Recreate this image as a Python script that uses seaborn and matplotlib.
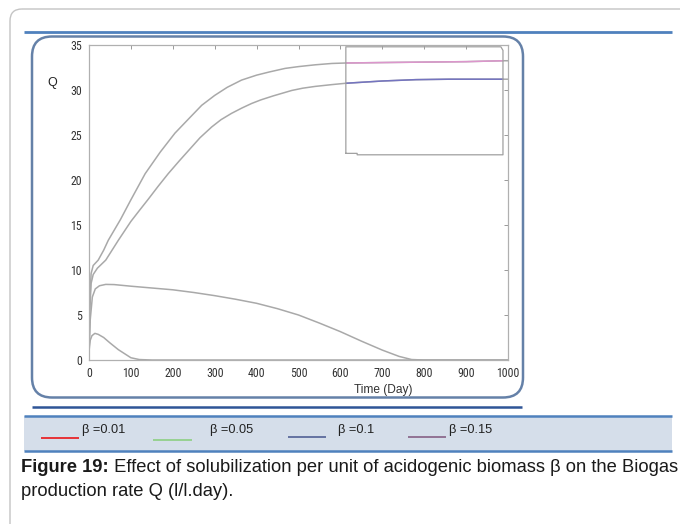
import matplotlib
matplotlib.use("Agg")
import matplotlib.pyplot as plt
import seaborn as sns
import pandas as pd
from matplotlib.patches import FancyBboxPatch, Rectangle
from matplotlib import font_manager

# ---------------- data ----------------
x_b015 = [0, 2, 5, 10, 22, 35, 46, 75, 100, 134, 170, 205, 240, 269, 300, 330, 364, 400, 430, 468, 500, 540, 580, 613, 700, 800, 900, 988, 1000]
y_b015 = [0.5, 6.5, 9.6, 10.5, 11.1, 12.2, 13.3, 15.6, 17.8, 20.7, 23.1, 25.2, 26.9, 28.3, 29.4, 30.3, 31.1, 31.65, 32.0, 32.4, 32.6, 32.8, 32.95, 33.0, 33.05, 33.1, 33.15, 33.25, 33.25]

x_b010 = [0, 2, 5, 10, 20, 40, 70, 100, 120, 142, 165, 189, 215, 240, 265, 293, 315, 340, 365, 388, 410, 440, 484, 510, 540, 580, 613, 700, 780, 860, 988, 1000]
y_b010 = [0.5, 5.5, 8.5, 9.5, 10.2, 11.1, 13.3, 15.4, 16.6, 17.9, 19.3, 20.7, 22.1, 23.4, 24.7, 25.9, 26.7, 27.4, 28.0, 28.5, 28.9, 29.35, 29.95, 30.2, 30.4, 30.6, 30.75, 31.0, 31.15, 31.2, 31.2, 31.2]

x_b005 = [0, 3, 8, 15, 25, 40, 60, 100, 150, 200, 250, 300, 350, 400, 450, 500, 550, 600, 650, 700, 740, 770, 800, 1000]
y_b005 = [1.0, 4.5, 7.0, 7.9, 8.25, 8.4, 8.38, 8.2, 8.0, 7.8, 7.5, 7.15, 6.75, 6.3, 5.7, 5.0, 4.1, 3.15, 2.1, 1.1, 0.4, 0.05, 0.0, 0.0]

x_b001 = [0, 3, 7, 14, 22, 35, 50, 70, 90, 100, 120, 150, 1000]
y_b001 = [1.0, 2.2, 2.7, 2.96, 2.85, 2.5, 1.9, 1.15, 0.55, 0.25, 0.05, 0.0, 0.0]

zoom_x = [613, 613, 983, 988, 988, 640, 640, 613]
zoom_y = [22.96, 34.8, 34.8, 34.4, 22.8, 22.8, 22.96, 22.96]
zoom_range = (613, 988)

x_ticks = list(range(0, 1001, 100))
y_ticks = list(range(0, 36, 5))

legend_labels = ["\u03b2 =0.01", "\u03b2 =0.05", "\u03b2 =0.1", "\u03b2 =0.15"]
legend_colors = ["#e8262a", "#92d08a", "#5c6a9c", "#8c6a8e"]

caption_bold = "Figure 19:"
caption_rest = " Effect of solubilization per unit of acidogenic biomass \u03b2 on the Biogas"
caption_line2 = "production rate Q (l/l.day)."

# ---------------- fonts ----------------
sns.set_style("white")
names = sorted({f.name for f in font_manager.fontManager.ttflist})
narrow = None
for cand in ["Liberation Sans Narrow", "Arial Narrow", "Roboto Condensed", "Open Sans Condensed"]:
    if cand in names:
        narrow = cand
        break
narrow_stretch = "normal"
if narrow is None:
    cond = [f for f in font_manager.fontManager.ttflist
            if f.name == "DejaVu Sans" and "Condensed" in f.fname and "Bold" not in f.fname
            and "Oblique" not in f.fname]
    if cond:
        narrow = "DejaVu Sans"
        narrow_stretch = "condensed"
    else:
        narrow = "Liberation Sans"
plt.rcParams['font.family'] = ['Liberation Sans', 'DejaVu Sans']

W, H = 680, 524
fig = plt.figure(figsize=(W / 100, H / 100), dpi=100)

bg = fig.add_axes([0, 0, 1, 1], zorder=0)
bg.set_xlim(0, W)
bg.set_ylim(H, 0)
bg.axis("off")

bg.add_patch(FancyBboxPatch((10, 9), 720, 560, boxstyle="round,pad=0,rounding_size=12",
                            fc="none", ec="#c4c4c4", lw=1.0))
bg.plot([24, 672], [32, 32], color="#4f81bd", lw=2.0, solid_capstyle="butt")
bg.add_patch(FancyBboxPatch((32, 36.5), 491, 361, boxstyle="round,pad=0,rounding_size=20",
                            fc="white", ec="#6581a8", lw=1.8))
bg.plot([32, 522], [407, 407], color="#2f5597", lw=1.8, solid_capstyle="butt")
bg.add_patch(Rectangle((24, 416), 648, 35, fc="#d5deea", ec="none"))
bg.plot([24, 672], [416, 416], color="#4f81bd", lw=1.8, solid_capstyle="butt")
bg.plot([24, 672], [451, 451], color="#4f81bd", lw=1.8, solid_capstyle="butt")

leg_line_x = [(41, 79), (153, 192), (288, 326), (408, 446)]
leg_line_y = [438, 440, 437, 437]
leg_text_x = [82, 210, 338, 449]
for (x0, x1), ly, tx, lab, col in zip(leg_line_x, leg_line_y, leg_text_x, legend_labels, legend_colors):
    bg.plot([x0, x1], [ly, ly], color=col, lw=1.3, solid_capstyle="butt")
    bg.text(tx, 430, lab, fontsize=9.2, color="#222222", va="center", ha="left")

cap_fs = 13.2
t1 = bg.text(21, 467, caption_bold, fontsize=cap_fs, fontweight="bold", color="#1a1a1a",
             va="center", ha="left")
fig.canvas.draw()
r = fig.canvas.get_renderer()
bb = t1.get_window_extent(renderer=r)
bg.text(bb.x1, 467, caption_rest, fontsize=cap_fs, color="#1a1a1a", va="center", ha="left")
bg.text(21, 491, caption_line2, fontsize=cap_fs, color="#1a1a1a", va="center", ha="left")

# ---------------- main axes ----------------
ax_l, ax_r, ax_t, ax_b = 89, 508, 45, 360
ax = fig.add_axes([ax_l / W, 1 - ax_b / H, (ax_r - ax_l) / W, (ax_b - ax_t) / H], zorder=2)
ax.set_facecolor("white")

gray = "#a9a9a9"
curves = [(x_b001, y_b001), (x_b005, y_b005), (x_b010, y_b010), (x_b015, y_b015)]
for xs, ys in curves:
    df = pd.DataFrame({"t": xs, "q": ys})
    sns.lineplot(data=df, x="t", y="q", ax=ax, color=gray, lw=1.1, sort=False, estimator=None)

for xs, ys, col in [(x_b015, y_b015, "#dc96cc"), (x_b010, y_b010, "#7474c0")]:
    df = pd.DataFrame({"t": xs, "q": ys})
    df = df[(df.t >= zoom_range[0]) & (df.t <= zoom_range[1])]
    sns.lineplot(data=df, x="t", y="q", ax=ax, color=col, lw=1.1, sort=False, estimator=None)

ax.plot(zoom_x, zoom_y, color="#a0a0a0", lw=0.9)

ax.set_xlim(0, 1000)
ax.set_ylim(0, 35)
ax.set_xticks(x_ticks)
ax.set_yticks(y_ticks)
ax.set_xlabel("")
ax.set_ylabel("")
ax.tick_params(direction="in", length=3, width=0.7, color="#999999", top=True, right=True,
               labelsize=8.6, labelcolor="#333333", pad=5)
for lab in ax.get_xticklabels() + ax.get_yticklabels():
    lab.set_family([narrow, 'DejaVu Sans'])
    lab.set_stretch(narrow_stretch)
for s in ax.spines.values():
    s.set_color("#b0b0b0")
    s.set_linewidth(0.9)

bg.text(52, 83, "Q", fontsize=9, color="#222222", ha="center", va="center")
bg.text(383, 390, "Time (Day)", fontsize=8.6, color="#333333", ha="center", va="center")

fig.savefig("out.png", dpi=100)
